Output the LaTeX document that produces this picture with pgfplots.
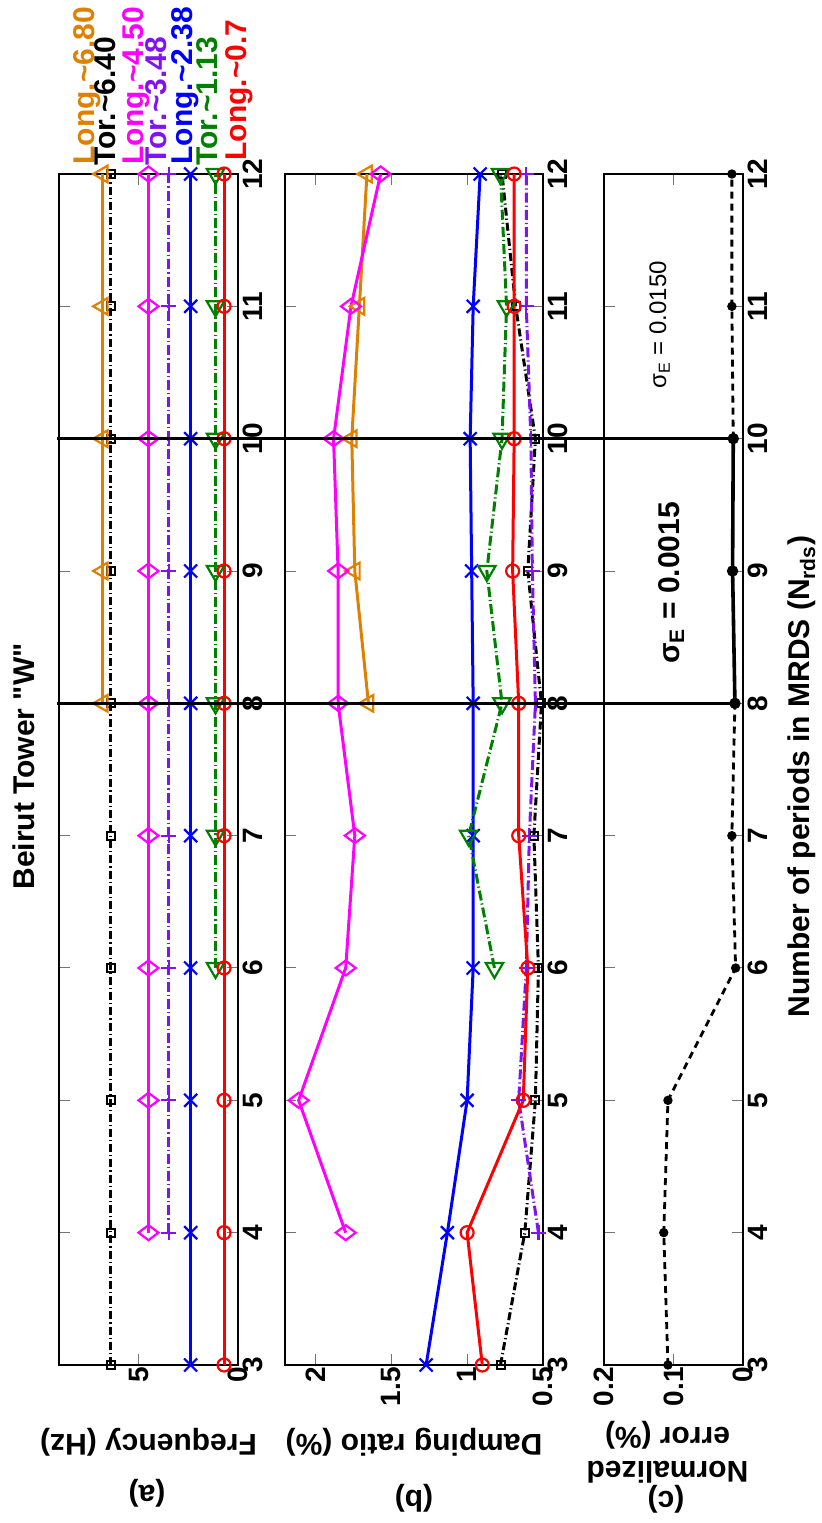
\documentclass[border=0pt]{standalone}
\usepackage{fontspec}
\setmainfont{Liberation Sans}[Ligatures=TeXOff]
\usepackage{pgfplots}
\pgfplotsset{compat=1.18}
\definecolor{cOr}{RGB}{222,128,0}
\definecolor{cMa}{RGB}{255,0,255}
\definecolor{cPu}{RGB}{128,20,240}
\definecolor{cBl}{RGB}{0,0,255}
\definecolor{cGr}{RGB}{0,128,0}
\definecolor{cRe}{RGB}{255,0,0}
\newcommand{\bigb}{\bfseries\fontsize{15}{17}\selectfont}
\pgfplotsset{
  panel/.style={
    scale only axis, anchor=north west,
    height=595.5pt,
    x dir=reverse,
    ymin=3, ymax=12, ytick={3,...,12},
    yticklabel pos=right,
    tick align=inside,
    major tick length=5.5pt,
    major tick style={black!55, line width=0.5pt},
    axis line style={line width=0.6pt},
    tick label style={font=\bfseries\fontsize{14}{14}\selectfont},
    /pgf/number format/assume math mode=true,
    yticklabel style={rotate=90, anchor=north, inner sep=2.5pt},
    xticklabel style={rotate=90, anchor=east, inner sep=1pt},
    clip=false,
    every axis plot/.append style={line width=1.5pt},
  },
  sOr/.style={color=cOr, solid, mark=triangle, mark size=4.8pt, mark options={solid, rotate=90, line width=1.1pt}},
  sBk/.style={color=black, dash pattern=on 4pt off 1.5pt on 0.6pt off 1.5pt, mark=square, mark size=2pt, mark options={solid, line width=1pt}},
  sMa/.style={color=cMa, solid, mark=diamond, mark size=5pt, mark options={solid, rotate=90, line width=1.1pt}},
  sPu/.style={color=cPu, dash pattern=on 5pt off 1.5pt on 0.6pt off 1.5pt, mark=+, mark size=3.75pt, mark options={solid, line width=1.1pt}},
  sBl/.style={color=cBl, solid, mark=x, mark size=4.6pt, mark options={solid, line width=1.1pt}},
  sGr/.style={color=cGr, dash pattern=on 5pt off 1.5pt on 0.6pt off 1.5pt, mark=triangle, mark size=5pt, mark options={solid, rotate=180, line width=1.1pt}},
  sRe/.style={color=cRe, solid, mark=o, mark size=3.25pt, mark options={solid, line width=1.1pt}},
}
\begin{document}
\begin{tikzpicture}
\path[use as bounding box] (0pt,0pt) rectangle (410.5pt,-761.5pt);

% ---------------- panel (a): frequency
\begin{axis}[panel, name=pa, at={(29.5pt,-87pt)}, width=89.5pt,
  xmin=0, xmax=9, xtick={0,5}]
\addplot[sBk] coordinates {(6.4,3)(6.4,4)(6.4,5)(6.4,6)(6.4,7)(6.4,8)(6.4,9)(6.4,10)(6.4,11)(6.4,12)};
\addplot[sOr] coordinates {(6.8,8)(6.8,9)(6.8,10)(6.8,11)(6.8,12)};
\addplot[sMa] coordinates {(4.5,4)(4.5,5)(4.5,6)(4.5,7)(4.5,8)(4.5,9)(4.5,10)(4.5,11)(4.5,12)};
\addplot[sPu] coordinates {(3.48,4)(3.48,5)(3.48,6)(3.48,7)(3.48,8)(3.48,9)(3.48,10)(3.48,11)(3.48,12)};
\addplot[sBl] coordinates {(2.38,3)(2.38,4)(2.38,5)(2.38,6)(2.38,7)(2.38,8)(2.38,9)(2.38,10)(2.38,11)(2.38,12)};
\addplot[sGr] coordinates {(1.13,6)(1.13,7)(1.13,8)(1.13,9)(1.13,10)(1.13,11)(1.13,12)};
\addplot[sRe] coordinates {(0.7,3)(0.7,4)(0.7,5)(0.7,6)(0.7,7)(0.7,8)(0.7,9)(0.7,10)(0.7,11)(0.7,12)};
\coordinate (a8) at (axis cs:9.1,8);
\coordinate (a10) at (axis cs:9.1,10);
\begin{scope}[every node/.style={rotate=90, anchor=base west, inner sep=0pt, font=\bfseries\fontsize{15}{15}\selectfont}]
\node[text=cOr] at (axis cs:7.2,12.068) {Long.\textasciitilde 6.80};
\node[text=black] at (axis cs:6.17,12.06) {Tor.\textasciitilde 6.40};
\node[text=cMa] at (axis cs:4.77,12.068) {Long.\textasciitilde 4.50};
\node[text=cPu] at (axis cs:3.57,12.06) {Tor.\textasciitilde 3.48};
\node[text=cBl] at (axis cs:2.27,12.068) {Long.\textasciitilde 2.38};
\node[text=cGr] at (axis cs:1.02,12.06) {Tor.\textasciitilde 1.13};
\node[text=cRe] at (axis cs:-0.43,12.1) {Long.\textasciitilde 0.7};
\end{scope}
\end{axis}

% ---------------- panel (b): damping ratio
\begin{axis}[panel, name=pb, at={(142.5pt,-87pt)}, width=129pt,
  xmin=0.5, xmax=2.2, xtick={0.5,1,1.5,2}]
\addplot[sBk] coordinates {(0.78,3)(0.62,4)(0.55,5)(0.53,6)(0.56,7)(0.51,8)(0.60,9)(0.55,10)(0.68,11)(0.77,12)};
\addplot[sOr] coordinates {(1.65,8)(1.74,9)(1.76,10)(1.71,11)(1.66,12)};
\addplot[sMa] coordinates {(1.80,4)(2.11,5)(1.80,6)(1.74,7)(1.85,8)(1.85,9)(1.88,10)(1.765,11)(1.57,12)};
\addplot[sPu] coordinates {(0.53,4)(0.66,5)(0.61,6)(0.59,7)(0.55,8)(0.57,9)(0.58,10)(0.61,11)(0.61,12)};
\addplot[sBl] coordinates {(1.27,3)(1.13,4)(1.00,5)(0.96,6)(0.96,7)(0.96,8)(0.97,9)(0.98,10)(0.96,11)(0.914,12)};
\addplot[sGr] coordinates {(0.82,6)(0.99,7)(0.77,8)(0.87,9)(0.77,10)(0.74,11)(0.78,12)};
\addplot[sRe] coordinates {(0.90,3)(1.00,4)(0.63,5)(0.60,6)(0.66,7)(0.66,8)(0.70,9)(0.69,10)(0.69,11)(0.69,12)};
\end{axis}

% ---------------- panel (c): normalized error
\begin{axis}[panel, name=pc, at={(302pt,-87pt)}, width=69.5pt,
  xmin=0, xmax=0.2, xtick={0,0.1,0.2},
  xticklabel style={/pgf/number format/fixed}]
\addplot[black, line width=1.4pt, dash pattern=on 3.5pt off 2.5pt, mark=*, mark size=1.6pt, mark options={solid}]
  coordinates {(0.108,3)(0.114,4)(0.108,5)(0.0106,6)(0.016,7)(0.0116,8)};
\addplot[black, line width=1.4pt, dash pattern=on 3.5pt off 2.5pt, mark=*, mark size=1.6pt, mark options={solid}]
  coordinates {(0.014,10)(0.016,11)(0.016,12)};
\addplot[black, solid, line width=1.8pt, mark=*, mark size=1.9pt]
  coordinates {(0.0116,8)(0.015,9)(0.014,10)};
\coordinate (c8) at (axis cs:0.0116,8);
\coordinate (c10) at (axis cs:0.014,10);
\node[rotate=90, font=\bigb] at (axis cs:0.103,8.91) {σ\textsubscript{E} = 0.0015};
\node[rotate=90, font=\fontsize{12}{12}\selectfont] at (axis cs:0.12,10.86) {σ\textsubscript{E} = 0.0150};
\end{axis}

\draw[line width=1.8pt] (a8) -- (c8);
\draw[line width=1.8pt] (a10) -- (c10);

\node[rotate=90, font=\bigb] at ([xshift=-17.75pt, yshift=1.5pt]pa.west) {Beirut Tower "W"};
\node[rotate=180, font=\bigb] at ([yshift=-38.5pt]pa.south) {Frequency (Hz)};
\node[rotate=180, font=\bigb] at ([xshift=-0.75pt, yshift=-64pt]pa.south) {(a)};
\node[rotate=180, font=\bigb] at ([yshift=-38.5pt]pb.south) {Damping ratio (\%)};
\node[rotate=180, font=\bigb] at ([yshift=-66.5pt]pb.south) {(b)};
\node[rotate=180, font=\bigb, align=center] at ([xshift=-3pt, yshift=-43.5pt]pc.south) {Normalized\\error (\%)};
\node[rotate=180, font=\bigb] at ([xshift=-3.75pt, yshift=-67pt]pc.south) {(c)};
\node[rotate=90, font=\bigb] at ([xshift=29.5pt, yshift=-3.5pt]pc.east) {Number of periods in MRDS (N\textsubscript{rds})};
\end{tikzpicture}
\end{document}
